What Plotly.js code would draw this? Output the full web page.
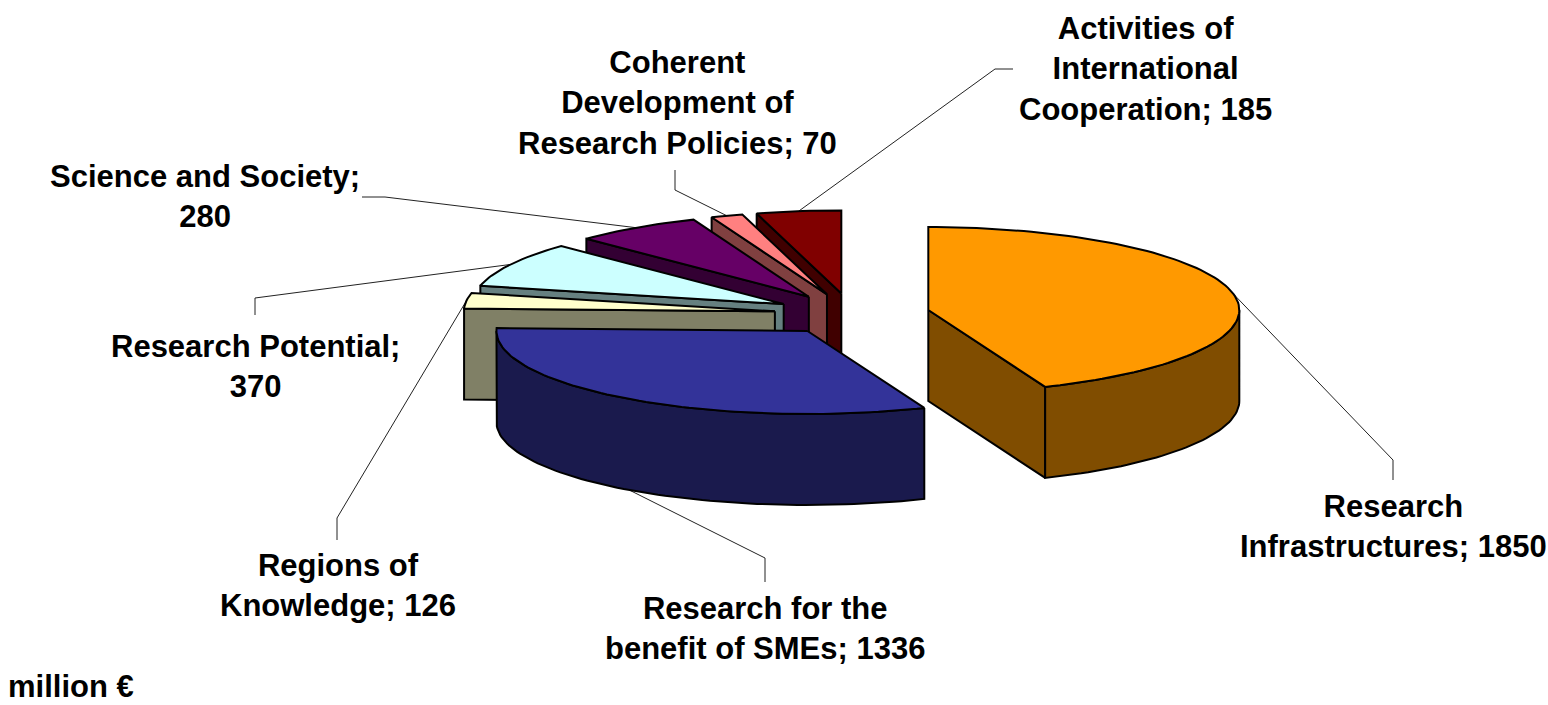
<!DOCTYPE html>
<html>
<head>
<meta charset="utf-8">
<title>FP7 Capacities budget, million €</title>
<script src="https://cdn.plot.ly/plotly-3.0.1.min.js"></script>
<style>html,body{margin:0;padding:0;background:#fff;}#chart{width:1548px;height:705px;}</style>
</head>
<body>
<div id="chart"></div>
<script>
// Data (clockwise from 12 o'clock)
const categories = ['Research<br>Infrastructures', 'Research for the<br>benefit of SMEs', 'Regions of<br>Knowledge',
  'Research Potential', 'Science and Society', 'Coherent<br>Development of<br>Research Policies',
  'Activities of<br>International<br>Cooperation'];
const values = [1850, 1336, 126, 370, 280, 70, 185];
const valueBreaks = ['; ', '; ', '; ', ';<br>', ';<br>', '; ', '; '];
const unitNote = 'million €';

// Styles
const topColors = ['#FF9900', '#333399', '#FFFFCC', '#CCFFFF', '#660066', '#FF8080', '#800000'];
const wallColors = ['#804D00', '#1A1A4D', '#808066', '#668080', '#330033', '#804040', '#400000'];

// Layout of the projected pie, in axis units (= pixels of the 1548x705 frame)
const pie = {cx: 852, cy: 314, rx: 311, ry: 83, depth: 91, explode: 0.25};
const labelX = [1393, 765, 338, 255, 205, 677, 1145];
const labelY = [526, 628, 585, 366, 196, 103, 69];
const kneeX = [1393, 765, 337, 255, 385, 675, 995];
const kneeY = [460, 558, 518, 298, 197, 190, 69];
const leaderEndX = [1393, 765, 337, 255, 362, 675, 1013];
const leaderEndY = [480, 582, 540, 315, 197, 170, 69];

const total = values.reduce((a, b) => a + b, 0);
const rad = d => d * Math.PI / 180;
const traces = [];
const slices = [];
let acc = 0;
values.forEach((v, i) => {
  const start = acc / total * 360;
  acc += v;
  const end = acc / total * 360;
  const mid = (start + end) / 2;
  const ax = pie.cx + pie.explode * pie.rx * Math.sin(rad(mid));
  const ay = pie.cy - pie.explode * pie.ry * Math.cos(rad(mid));
  slices.push({i, start, end, mid, ax, ay});
});
const rimPt = (s, deg) => [s.ax + pie.rx * Math.sin(rad(deg)), s.ay - pie.ry * Math.cos(rad(deg))];
function arc(s, a, b) {
  const n = Math.max(2, Math.ceil((b - a) / 1.5));
  const pts = [];
  for (let k = 0; k <= n; k++) pts.push(rimPt(s, a + (b - a) * k / n));
  return pts;
}
function poly(pts, fill, w) {
  const x = pts.map(p => p[0]).concat(pts[0][0]);
  const y = pts.map(p => p[1]).concat(pts[0][1]);
  traces.push({type: 'scatter', mode: 'lines', x, y, fill: 'toself', fillcolor: fill,
    line: {color: '#000000', width: w, shape: 'linear'}, hoverinfo: 'skip', showlegend: false});
}

// Leader lines
slices.forEach(s => {
  const p = rimPt(s, s.mid);
  const drop = (s.mid > 90 && s.mid < 270) ? pie.depth : 0;
  traces.push({type: 'scatter', mode: 'lines',
    x: [p[0], kneeX[s.i], leaderEndX[s.i]], y: [p[1] + drop, kneeY[s.i], leaderEndY[s.i]],
    line: {color: '#222222', width: 1}, hoverinfo: 'skip', showlegend: false});
});

// Slices painted back to front
slices.slice().reverse().forEach(s => {
  const wall = wallColors[s.i], top = topColors[s.i];
  const apex = [s.ax, s.ay];
  const down = p => [p[0], p[1] + pie.depth];
  // Cut faces that look towards the viewer
  if (s.start > 180) {
    const r = rimPt(s, s.start);
    poly([apex, r, down(r), down(apex)], wall, 2);
  }
  if (s.end < 180) {
    const r = rimPt(s, s.end);
    poly([apex, r, down(r), down(apex)], wall, 2);
  }
  // Outer wall: front half of the rim only
  const a = Math.max(s.start, 90), b = Math.min(s.end, 270);
  if (b > a) {
    const rim = arc(s, a, b);
    poly(rim.concat(rim.slice().reverse().map(down)), wall, 2);
  }
  // Top face
  poly([apex].concat(arc(s, s.start, s.end)), top, 2);
});

const baseFont = {family: '"Liberation Sans", Arial, sans-serif', size: 31, color: '#000000', weight: 700};
const annotations = slices.map(s => ({
  x: labelX[s.i], y: labelY[s.i], xref: 'x', yref: 'y', xanchor: 'center', yanchor: 'middle',
  text: '<b>' + categories[s.i] + valueBreaks[s.i] + values[s.i] + '</b>',
  showarrow: false, align: 'center', font: baseFont, borderpad: 0
}));
annotations.push({x: 7, y: 686, xref: 'x', yref: 'y', xanchor: 'left', yanchor: 'middle',
  text: '<b>' + unitNote + '</b>', showarrow: false, font: baseFont, borderpad: 0});

Plotly.newPlot('chart', traces, {
  width: 1548, height: 705,
  margin: {l: 0, r: 0, t: 0, b: 0},
  paper_bgcolor: '#ffffff', plot_bgcolor: '#ffffff',
  showlegend: false,
  xaxis: {range: [0, 1548], visible: false, fixedrange: true},
  yaxis: {range: [705, 0], visible: false, fixedrange: true},
  annotations
}, {displayModeBar: false, staticPlot: true});
</script>
</body>
</html>
